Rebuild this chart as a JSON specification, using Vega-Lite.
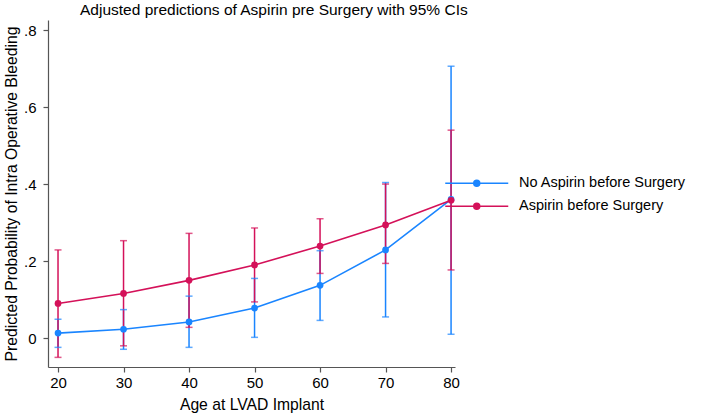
{
  "$schema": "https://vega.github.io/schema/vega-lite/v6.json",
  "width": 407,
  "height": 347,
  "autosize": {"type": "none"},
  "padding": {"left": 48, "top": 20, "right": 257, "bottom": 47},
  "background": "white",
  "title": {
    "text": "Adjusted predictions of Aspirin pre Surgery with 95% CIs",
    "font": "Liberation Sans",
    "fontSize": 15.5,
    "fontWeight": "normal",
    "color": "#000000",
    "anchor": "start",
    "frame": "group",
    "dx": 32,
    "offset": 2
  },
  "config": {
    "view": {"stroke": null},
    "font": "Liberation Sans",
    "axis": {
      "grid": false,
      "domainColor": "#555555",
      "tickColor": "#555555",
      "tickSize": 5,
      "domainWidth": 1.2,
      "tickWidth": 1.2,
      "labelFont": "Liberation Sans",
      "labelFontSize": 15,
      "labelColor": "#000000",
      "titleFont": "Liberation Sans",
      "titleFontSize": 15.7,
      "titleFontWeight": "normal",
      "titleColor": "#000000"
    },
    "legend": {
      "orient": "none",
      "legendX": 421.5,
      "legendY": 156,
      "title": null,
      "symbolType": "M-9,0H9M0.85,0A0.85,0.85 0 1,1 -0.85,0A0.85,0.85 0 1,1 0.85,0Z",
      "symbolSize": 49,
      "symbolStrokeWidth": 1.5,
      "labelOffset": 35,
      "labelLimit": 400,
      "labelFont": "Liberation Sans",
      "labelFontSize": 14.5,
      "labelColor": "#000000",
      "rowPadding": 8,
      "padding": 0
    }
  },
  "data": {
    "values": [
      {"group": "No Aspirin before Surgery", "age": 20, "p": 0.013, "lo": -0.024, "hi": 0.049},
      {"group": "No Aspirin before Surgery", "age": 30, "p": 0.023, "lo": -0.029, "hi": 0.074},
      {"group": "No Aspirin before Surgery", "age": 40, "p": 0.042, "lo": -0.024, "hi": 0.109},
      {"group": "No Aspirin before Surgery", "age": 50, "p": 0.078, "lo": 0.002, "hi": 0.155},
      {"group": "No Aspirin before Surgery", "age": 60, "p": 0.137, "lo": 0.046, "hi": 0.227},
      {"group": "No Aspirin before Surgery", "age": 70, "p": 0.229, "lo": 0.055, "hi": 0.404},
      {"group": "No Aspirin before Surgery", "age": 80, "p": 0.36, "lo": 0.01, "hi": 0.706},
      {"group": "Aspirin before Surgery", "age": 20, "p": 0.09, "lo": -0.05, "hi": 0.229},
      {"group": "Aspirin before Surgery", "age": 30, "p": 0.116, "lo": -0.02, "hi": 0.253},
      {"group": "Aspirin before Surgery", "age": 40, "p": 0.15, "lo": 0.028, "hi": 0.272},
      {"group": "Aspirin before Surgery", "age": 50, "p": 0.19, "lo": 0.094, "hi": 0.286},
      {"group": "Aspirin before Surgery", "age": 60, "p": 0.239, "lo": 0.168, "hi": 0.31},
      {"group": "Aspirin before Surgery", "age": 70, "p": 0.294, "lo": 0.194, "hi": 0.4},
      {"group": "Aspirin before Surgery", "age": 80, "p": 0.358, "lo": 0.177, "hi": 0.54}
    ]
  },
  "encoding": {
    "x": {
      "field": "age",
      "type": "quantitative",
      "scale": {"domain": [18.47, 80.6], "nice": false, "zero": false},
      "axis": {"values": [20, 30, 40, 50, 60, 70, 80], "title": "Age at LVAD Implant", "labelPadding": 3, "titlePadding": 7}
    },
    "color": {
      "field": "group",
      "type": "nominal",
      "scale": {"domain": ["No Aspirin before Surgery", "Aspirin before Surgery"], "range": ["#1a85ff", "#d41159"]},
      "legend": {
        "encode": {
          "symbols": {
            "update": {
              "fill": {"scale": "color", "field": "value"},
              "stroke": {"scale": "color", "field": "value"},
              "strokeWidth": {"value": 1.5}
            }
          }
        }
      }
    }
  },
  "layer": [
    {
      "mark": {"type": "rule", "strokeWidth": 1.5},
      "encoding": {
        "y": {
          "field": "lo",
          "type": "quantitative",
          "scale": {"domain": [-0.075, 0.826], "nice": false, "zero": false},
          "axis": {
            "values": [0, 0.2, 0.4, 0.6, 0.8],
            "labelExpr": "datum.value == 0 ? '0' : replace(format(datum.value, '.1f'), '0.', '.')",
            "title": "Predicted Probability of Intra Operative Bleeding",
            "labelPadding": 7,
            "titlePadding": 4
          }
        },
        "y2": {"field": "hi"}
      }
    },
    {
      "mark": {"type": "tick", "orient": "horizontal", "size": 7, "thickness": 1.5},
      "encoding": {"y": {"field": "lo", "type": "quantitative"}}
    },
    {
      "mark": {"type": "tick", "orient": "horizontal", "size": 7, "thickness": 1.5},
      "encoding": {"y": {"field": "hi", "type": "quantitative"}}
    },
    {
      "mark": {"type": "line", "strokeWidth": 1.6},
      "encoding": {"y": {"field": "p", "type": "quantitative"}}
    },
    {
      "mark": {"type": "point", "filled": true, "size": 45, "opacity": 1},
      "encoding": {"y": {"field": "p", "type": "quantitative"}}
    }
  ]
}
